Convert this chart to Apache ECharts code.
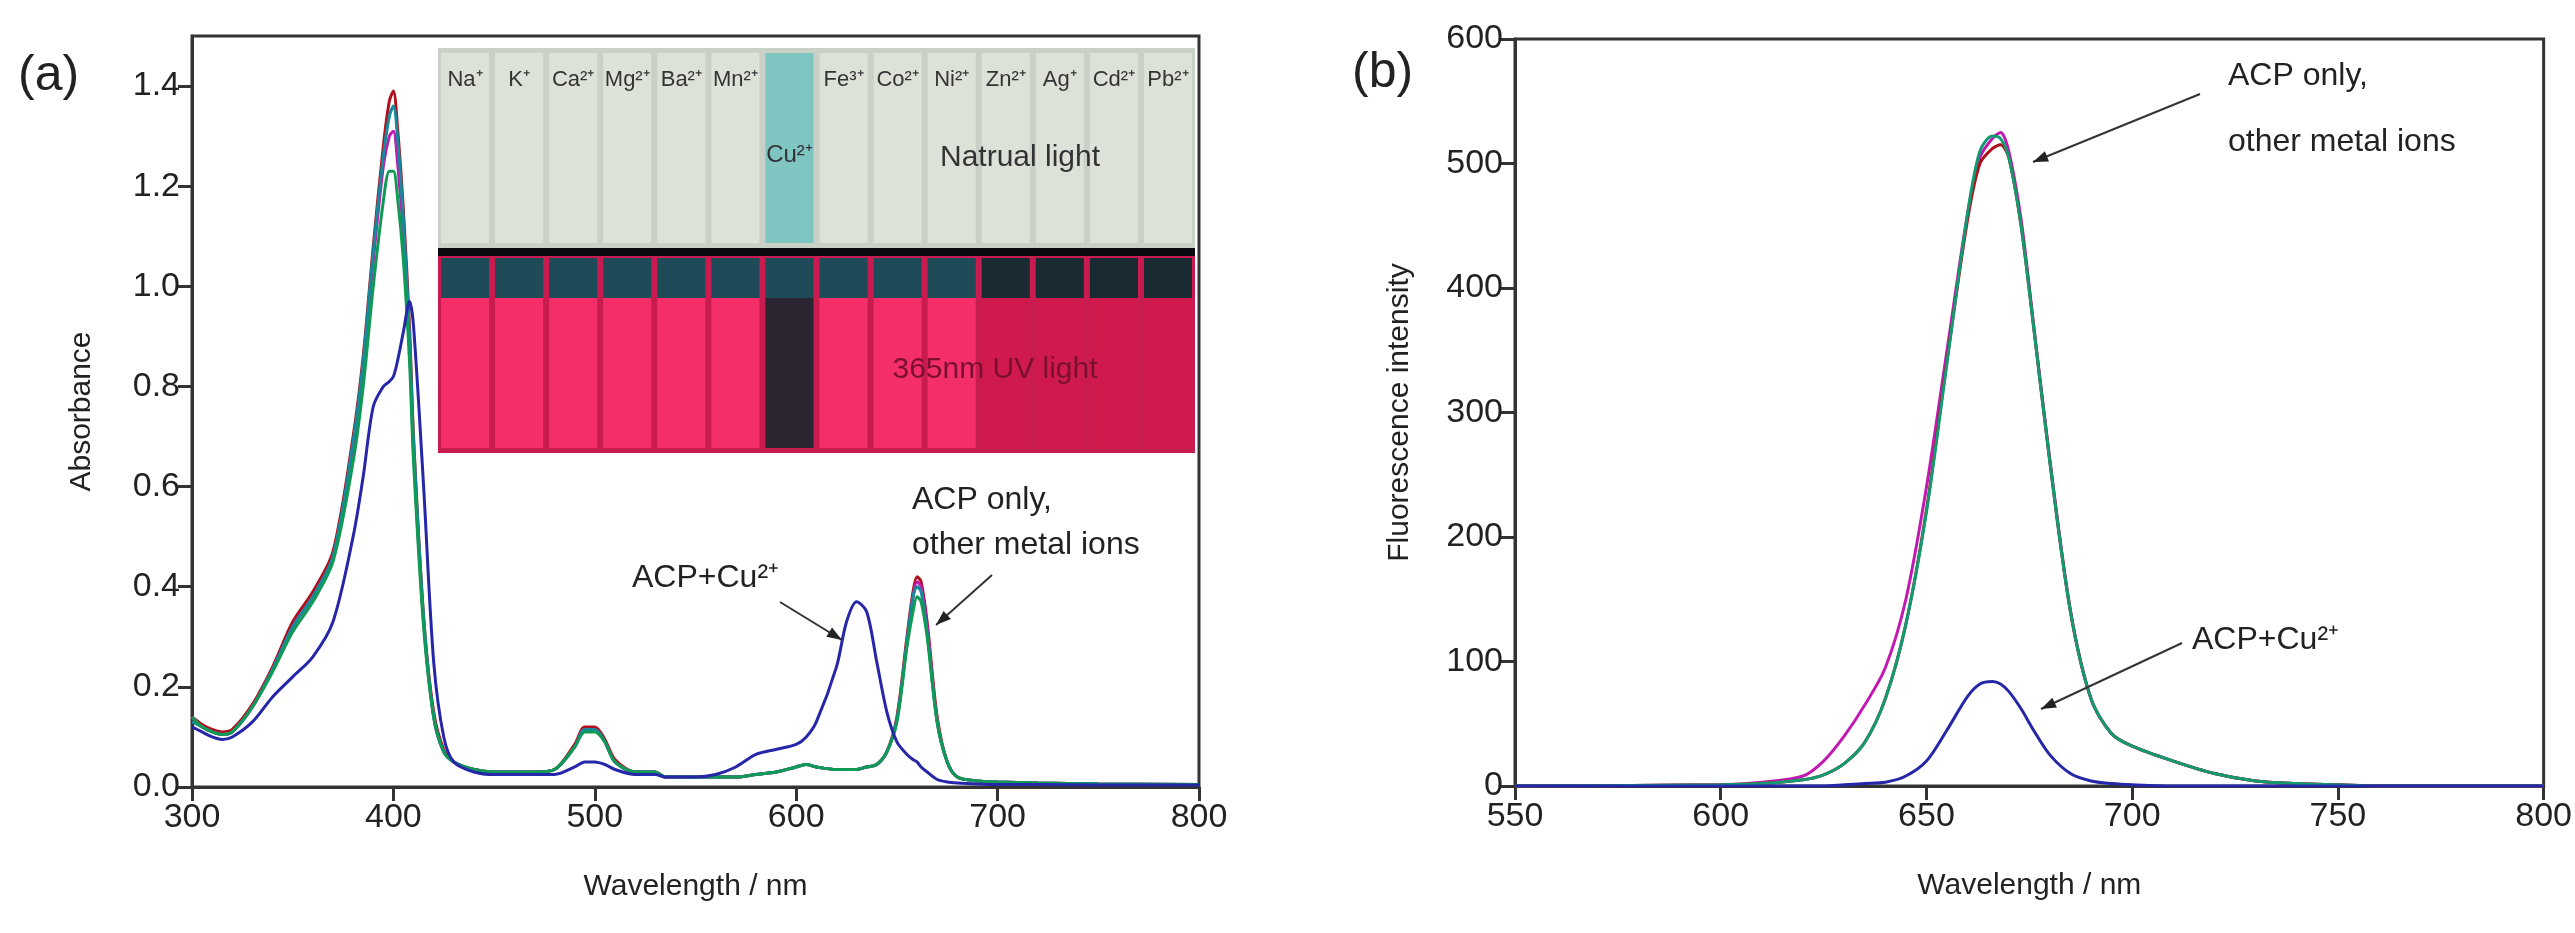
<!DOCTYPE html>
<html>
<head>
<meta charset="utf-8">
<script src="https://cdn.jsdelivr.net/npm/echarts@6/dist/echarts.min.js"></script>
<style>
html, body { margin: 0; padding: 0; background: #fff; }
#chart { width: 2575px; height: 933px; }
</style>
</head>
<body>
<div id="chart"></div>
<script>
// (a) absorbance
var wlA = [300,305,310,315,320,330,340,350,360,370,380,385,390,395,398,400,402,405,408,410,415,420,425,430,440,450,460,470,480,490,495,500,505,510,520,525,530,535,540,550,560,570,580,590,600,605,610,620,625,630,635,640,645,650,655,658,660,662,665,670,675,680,690,700,720,750,800]
var absGreen = [0.14,0.12,0.11,0.105,0.11,0.16,0.23,0.31,0.37,0.45,0.65,0.80,1.00,1.17,1.23,1.23,1.18,1.05,0.85,0.65,0.32,0.14,0.07,0.05,0.035,0.03,0.03,0.03,0.035,0.08,0.11,0.11,0.09,0.05,0.03,0.03,0.03,0.02,0.02,0.02,0.02,0.02,0.025,0.03,0.04,0.045,0.04,0.035,0.035,0.035,0.04,0.045,0.07,0.13,0.28,0.35,0.38,0.37,0.30,0.13,0.05,0.02,0.012,0.01,0.008,0.006,0.005]
var absRed = [0.14,0.125,0.115,0.11,0.115,0.165,0.24,0.33,0.39,0.47,0.70,0.86,1.08,1.28,1.37,1.39,1.32,1.15,0.92,0.70,0.34,0.15,0.075,0.05,0.035,0.03,0.03,0.03,0.035,0.085,0.12,0.12,0.095,0.055,0.03,0.03,0.03,0.02,0.02,0.02,0.02,0.02,0.025,0.03,0.04,0.045,0.04,0.035,0.035,0.035,0.04,0.045,0.07,0.14,0.30,0.39,0.42,0.41,0.33,0.14,0.05,0.02,0.012,0.01,0.008,0.006,0.005]
var absMagenta = [0.14,0.12,0.11,0.105,0.11,0.16,0.235,0.32,0.38,0.46,0.68,0.84,1.05,1.24,1.30,1.31,1.25,1.10,0.88,0.67,0.33,0.14,0.07,0.05,0.035,0.03,0.03,0.03,0.035,0.08,0.115,0.115,0.09,0.05,0.03,0.03,0.03,0.02,0.02,0.02,0.02,0.02,0.025,0.03,0.04,0.045,0.04,0.035,0.035,0.035,0.04,0.045,0.07,0.135,0.29,0.38,0.41,0.40,0.32,0.13,0.05,0.02,0.012,0.01,0.008,0.006,0.005]
var absCyan = [0.13,0.12,0.11,0.105,0.11,0.16,0.235,0.32,0.38,0.46,0.69,0.85,1.07,1.26,1.34,1.36,1.30,1.13,0.90,0.69,0.34,0.14,0.07,0.05,0.035,0.03,0.03,0.03,0.035,0.08,0.115,0.115,0.09,0.05,0.03,0.03,0.03,0.02,0.02,0.02,0.02,0.02,0.025,0.03,0.04,0.045,0.04,0.035,0.035,0.035,0.04,0.045,0.07,0.135,0.29,0.38,0.40,0.39,0.31,0.13,0.05,0.02,0.012,0.01,0.008,0.006,0.005]
var absBlue = [0.12,0.11,0.10,0.095,0.10,0.13,0.18,0.22,0.26,0.33,0.50,0.62,0.76,0.80,0.81,0.82,0.85,0.91,0.97,0.92,0.60,0.25,0.10,0.05,0.03,0.025,0.025,0.025,0.025,0.04,0.05,0.05,0.045,0.035,0.025,0.025,0.025,0.02,0.02,0.02,0.025,0.04,0.065,0.075,0.085,0.10,0.13,0.24,0.33,0.37,0.35,0.25,0.15,0.09,0.065,0.055,0.05,0.04,0.03,0.015,0.01,0.008,0.006,0.005,0.005,0.004,0.004]

// (b) fluorescence
var wlB = [550,600,610,620,625,630,635,640,645,650,655,660,663,666,668,670,673,676,680,685,690,695,700,710,720,730,740,750,760,800]
var flGreen = [0,1,2,5,9,18,35,70,130,220,340,460,510,522,520,505,450,370,260,140,70,42,32,20,10,4,2,1,0,0]
var flMagenta = [0,1,3,8,20,40,65,95,150,240,350,460,505,520,525,510,455,372,262,141,70,42,32,20,10,4,2,1,0,0]
var flRed = [0,1,2,5,9,18,35,70,130,222,342,455,500,512,515,505,450,370,260,140,70,42,32,20,10,4,2,1,0,0]
var flBlue = [0,0,0,0,0,1,2,3,8,20,45,72,82,84,82,76,62,45,25,10,4,2,1,0,0,0,0,0,0,0]

var ions = ['Na⁺','K⁺','Ca²⁺','Mg²⁺','Ba²⁺','Mn²⁺','','Fe³⁺','Co²⁺','Ni²⁺','Zn²⁺','Ag⁺','Cd²⁺','Pb²⁺']

var font = 'Liberation Sans, Arial, sans-serif'
var axisColor = '#333'

function zip(xs, ys) { return xs.map(function (x, i) { return [x, ys[i]] }) }
function line(data, color, xi) {
  return { type: 'line', xAxisIndex: xi, yAxisIndex: xi, data: data, showSymbol: false, smooth: 0.3,
    lineStyle: { color: color, width: 3 }, silent: true }
}
function xAx(idx, min, max, interval) {
  return { type: 'value', gridIndex: idx, min: min, max: max, interval: interval, name: 'Wavelength / nm',
    nameLocation: 'middle', nameGap: 85, nameTextStyle: { fontSize: 30, fontFamily: font, color: '#222' },
    axisLine: { lineStyle: { color: axisColor, width: 3 } }, axisTick: { length: 14, lineStyle: { width: 3, color: axisColor } },
    axisLabel: { fontSize: 34, fontFamily: font, color: '#222', margin: 14 }, splitLine: { show: false } }
}
function yAx(idx, min, max, interval, name, fmt, gap) {
  return { type: 'value', gridIndex: idx, min: min, max: max, interval: interval, name: name,
    nameLocation: 'middle', nameGap: gap, nameTextStyle: { fontSize: 30, fontFamily: font, color: '#222' },
    axisLine: { lineStyle: { color: axisColor, width: 3 } }, axisTick: { length: 14, lineStyle: { width: 3, color: axisColor } },
    axisLabel: { fontSize: 34, fontFamily: font, color: '#222', margin: 12, formatter: fmt,
      showMaxLabel: idx === 1 }, splitLine: { show: false } }
}

// inset photo approximation
var inset = []
var ix = 438, iw = 757, iy = 48, ih = 405, half = 200
inset.push({ type: 'rect', shape: { x: ix, y: iy, width: iw, height: half }, style: { fill: '#c9d0c6' } })
inset.push({ type: 'rect', shape: { x: ix, y: iy + half, width: iw, height: ih - half }, style: { fill: '#c81c50' } })
inset.push({ type: 'rect', shape: { x: ix, y: iy + half, width: iw, height: 8 }, style: { fill: '#0a0a10' } })
var vw = iw / 14
for (var k = 0; k < 14; k++) {
  inset.push({ type: 'rect', shape: { x: ix + k * vw + 3, y: iy + 5, width: vw - 6, height: half - 10 },
    style: { fill: k === 6 ? '#7fc6c2' : 'rgba(235,240,232,0.55)' } })
  inset.push({ type: 'rect', shape: { x: ix + k * vw + 3, y: iy + half + 10, width: vw - 6, height: 40 },
    style: { fill: k > 9 ? '#1a2a32' : '#1f4a58' } })
  inset.push({ type: 'rect', shape: { x: ix + k * vw + 3, y: iy + half + 50, width: vw - 6, height: ih - half - 55 },
    style: { fill: k === 6 ? '#2a2530' : (k > 9 ? '#d01a4e' : '#f42e68') } })
  inset.push({ type: 'text', x: ix + k * vw + vw / 2, y: iy + 32, style: { text: ions[k], fontSize: 22, fontFamily: font,
    fill: '#333', align: 'center', verticalAlign: 'middle' } })
}
inset.push({ type: 'text', x: ix + 6 * vw + vw / 2, y: 155, style: { text: 'Cu²⁺', fontSize: 24, fontFamily: font, fill: '#333', align: 'center', verticalAlign: 'middle' } })
inset.push({ type: 'text', x: 1020, y: 158, style: { text: 'Natrual light', fontSize: 30, fontFamily: font, fill: '#333', align: 'center', verticalAlign: 'middle' } })
inset.push({ type: 'text', x: 995, y: 370, style: { text: '365nm UV light', fontSize: 30, fontFamily: font, fill: '#7a1030', align: 'center', verticalAlign: 'middle' } })

function arrow(x1, y1, x2, y2) {
  var a = Math.atan2(y2 - y1, x2 - x1), L = 16
  return [
    { type: 'line', shape: { x1: x1, y1: y1, x2: x2, y2: y2 }, style: { stroke: '#333', lineWidth: 2 }, z: 10 },
    { type: 'polygon', shape: { points: [[x2, y2], [x2 - L * Math.cos(a - 0.35), y2 - L * Math.sin(a - 0.35)], [x2 - L * Math.cos(a + 0.35), y2 - L * Math.sin(a + 0.35)]] },
      style: { fill: '#222' }, z: 10 }
  ]
}
function txt(x, y, t, size) {
  return { type: 'text', x: x, y: y, z: 10, style: { text: t, fontSize: size || 32, fontFamily: font, fill: '#222', verticalAlign: 'middle' } }
}

var graphics = inset
  .concat([txt(18, 76, '(a)', 50), txt(1352, 73, '(b)', 50)])
  .concat([txt(632, 578, 'ACP+Cu²⁺'), txt(912, 500, 'ACP only,'), txt(912, 545, 'other metal ions')])
  .concat(arrow(780, 602, 842, 640)).concat(arrow(992, 575, 936, 625))
  .concat([txt(2228, 76, 'ACP only,'), txt(2228, 142, 'other metal ions'), txt(2192, 640, 'ACP+Cu²⁺')])
  .concat(arrow(2200, 94, 2033, 162)).concat(arrow(2182, 643, 2041, 709))

var chart = echarts.init(document.getElementById('chart'))
chart.setOption({
  animation: false,
  grid: [
    { left: 192, top: 36, width: 1007, height: 751, show: true, borderColor: axisColor, borderWidth: 3 },
    { left: 1515, top: 39, width: 1035, height: 747, show: true, borderColor: axisColor, borderWidth: 3 }
  ],
  xAxis: [xAx(0, 300, 800, 100), xAx(1, 550, 800, 50)],
  yAxis: [
    yAx(0, 0, 1.5, 0.2, 'Absorbance', function (v) { return v.toFixed(1) }, 95),
    yAx(1, 0, 600, 100, 'Fluorescence intensity', null, 100)
  ],
  series: [
    line(zip(wlA, absRed), '#b0101c', 0),
    line(zip(wlA, absMagenta), '#c01ab0', 0),
    line(zip(wlA, absCyan), '#168a9a', 0),
    line(zip(wlA, absGreen), '#0f9a55', 0),
    line(zip(wlA, absBlue), '#2626a8', 0),
    line(zip(wlB, flMagenta), '#c01ab0', 1),
    line(zip(wlB, flRed), '#b0101c', 1),
    line(zip(wlB, flGreen), '#129a70', 1),
    line(zip(wlB, flBlue), '#2626a8', 1)
  ],
  graphic: graphics
})
</script>
</body>
</html>
